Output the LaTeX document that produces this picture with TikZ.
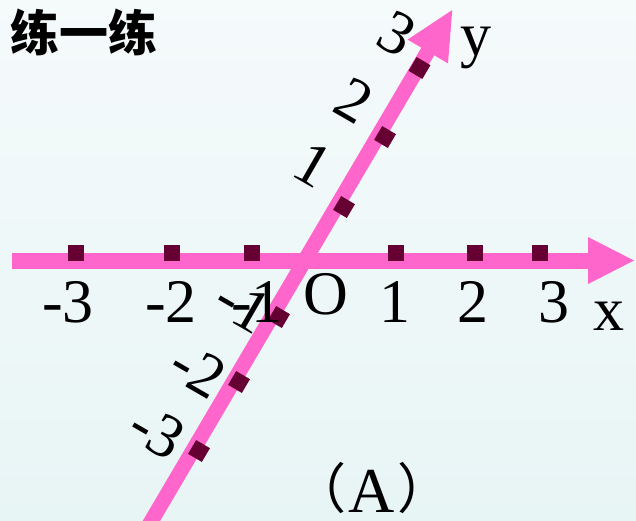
\documentclass[tikz,border=0pt]{standalone}
\usepackage{fontspec}
\setmainfont{Liberation Serif}
\newfontfamily\cjk{Noto Sans CJK SC}
\definecolor{bgtop}{RGB}{245,250,251}
\definecolor{bgbot}{RGB}{232,245,245}
\definecolor{axpink}{RGB}{255,102,204}
\definecolor{tickred}{RGB}{102,0,51}
\begin{document}
\begin{tikzpicture}[x=1pt,y=-1pt,
  axisline/.style={draw=axpink, line width=16pt},
  yaxisline/.style={draw=axpink, line width=15pt},
  tickbox/.style={fill=tickred, minimum size=16pt, inner sep=0pt, draw=none},
  ytickbox/.style={tickbox, rotate=-30.5},
  lab/.style={font=\fontsize{62}{62}\selectfont, inner sep=0pt},
  xlab/.style={lab, anchor=base},
  ylab/.style={lab, rotate=-30, anchor=center}]
\shade[top color=bgtop, bottom color=bgbot] (0,0) rectangle (636,520);
\useasboundingbox (0,0) rectangle (636,520);
% x axis
\coordinate (xs) at (12,260.5);
\coordinate (xe) at (590,260.5);
\coordinate (xtip) at (634,260.5);
\coordinate (xb1) at (588,237);
\coordinate (xb2) at (588,284);
\draw[axisline] (xs) -- (xe);
\fill[axpink] (xb1) -- (xtip) -- (xb2) -- cycle;
% y axis
\coordinate (ys) at (149,525);
\coordinate (ye) at (429.3,48.9);
\coordinate (ytip) at (452.2,10.1);
\coordinate (yb1) at (407.6,39.6);
\coordinate (yb2) at (448.0,63.4);
\draw[yaxisline] (ys) -- (ye);
\fill[axpink] (yb1) -- (ytip) -- (yb2) -- cycle;
% x ticks
\node[tickbox] (tx1) at (76,253) {};
\node[tickbox] (tx2) at (172,253) {};
\node[tickbox] (tx3) at (252,253) {};
\node[tickbox] (tx4) at (396,253) {};
\node[tickbox] (tx5) at (475,253) {};
\node[tickbox] (tx6) at (540,253) {};
% y ticks
\node[ytickbox] (ty1) at (419.5,68) {};
\node[ytickbox] (ty2) at (385,137) {};
\node[ytickbox] (ty3) at (344,207) {};
\node[ytickbox] (ty4) at (279,317) {};
\node[ytickbox] (ty5) at (239,382) {};
\node[ytickbox] (ty6) at (199,451) {};
% x labels
\node[xlab] (lxm3) at (68,322) {-3};
\node[xlab] (lxm2) at (171,322) {-2};
\node[xlab] (lxm1) at (257,322) {-1};
\node[xlab] (lo) at (326,314) {O};
\node[xlab] (lx1) at (395,322) {1};
\node[xlab] (lx2) at (473,322) {2};
\node[xlab] (lx3) at (554,322) {3};
\node[xlab] (lx) at (609,330) {x};
% y labels
\node[ylab] (ly1) at (313,165) {1};
\node[ylab] (ly2) at (354,100) {2};
\node[ylab] (ly3) at (397,34) {3};
\node[ylab] (lym1) at (243,305) {-1};
\node[ylab] (lym2) at (198,370) {-2};
\node[ylab] (lym3) at (157,432) {-3};
\node[xlab] (ly) at (476,55) {y};
% title and caption
\node[inner sep=0pt, font=\cjk\bfseries\fontsize{49}{49}\selectfont] (title) at (84,32) {练一练};
\node[inner sep=0pt, anchor=base] (cap) at (372,512) {\raisebox{4pt}{\cjk\fontsize{54}{54}\selectfont （}\hspace{2pt}{\fontsize{64}{64}\selectfont A}\hspace{3.5pt}\raisebox{4pt}{\cjk\fontsize{54}{54}\selectfont ）}};
\end{tikzpicture}
\end{document}
